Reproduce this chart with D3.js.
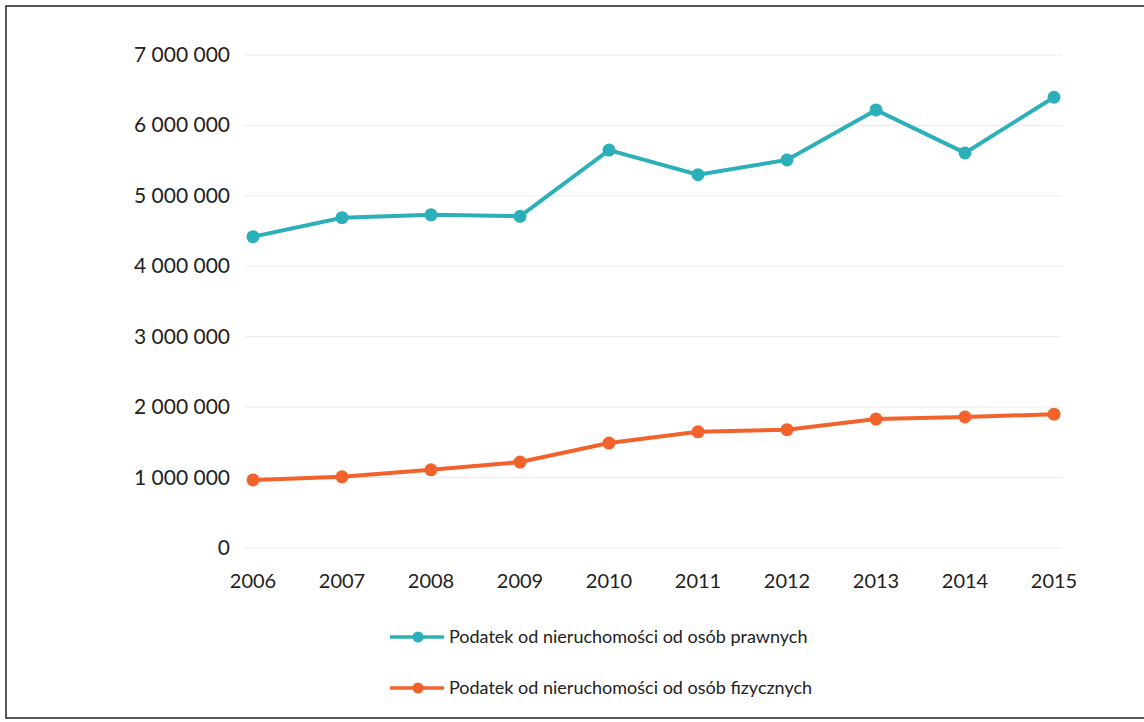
<!DOCTYPE html>
<html>
<head>
<meta charset="utf-8">
<script src="https://cdn.jsdelivr.net/npm/d3@7"></script>
<style>
  body { margin: 0; background: #fff; }
  text { font-family: Lato, "Open Sans", sans-serif; fill: #222; }
</style>
</head>
<body>
<div id="chart"></div>
<script>
// data
var years = [2006, 2007, 2008, 2009, 2010, 2011, 2012, 2013, 2014, 2015];
var prawne = [4420000, 4690000, 4730000, 4710000, 5650000, 5300000, 5510000, 6220000, 5610000, 6400000];
var fizyczne = [966000, 1010000, 1110000, 1220000, 1490000, 1650000, 1680000, 1830000, 1860000, 1900000];
var yTicks = [0, 1000000, 2000000, 3000000, 4000000, 5000000, 6000000, 7000000];
var seriesNames = ['Podatek od nieruchomości od osób prawnych', 'Podatek od nieruchomości od osób fizycznych'];
var colors = ['#2bb0b9', '#f4622b'];

var width = 1144, height = 722;
var svg = d3.select('#chart').append('svg')
    .attr('width', width)
    .attr('height', height);

// frame
svg.append('rect')
    .attr('x', 6).attr('y', 6)
    .attr('width', width + 10).attr('height', 712)
    .style('fill', 'none')
    .style('stroke', '#222')
    .attr('stroke-width', 1.5);

var x = d3.scalePoint().domain(years).range([253, 1054]);
var y = d3.scaleLinear().domain([0, 7000000]).range([548, 55]);

function fmt(v) {
    return d3.format(',')(v).replace(/,/g, ' ');
}

// gridlines
svg.selectAll('.grid')
    .data(yTicks)
    .enter().append('line')
    .attr('class', 'grid')
    .attr('x1', 245).attr('x2', 1062)
    .attr('y1', function (d) { return y(d); })
    .attr('y2', function (d) { return y(d); })
    .style('stroke', '#ebebeb')
    .attr('stroke-width', 1);

// y labels
svg.selectAll('.ylab')
    .data(yTicks)
    .enter().append('text')
    .attr('class', 'ylab')
    .attr('x', 230)
    .attr('y', function (d) { return y(d) + 7; })
    .attr('text-anchor', 'end')
    .style('font-size', '21px')
    .text(function (d) { return fmt(d); });

// x labels
svg.selectAll('.xlab')
    .data(years)
    .enter().append('text')
    .attr('class', 'xlab')
    .attr('x', function (d) { return x(d); })
    .attr('y', 588)
    .attr('text-anchor', 'middle')
    .style('font-size', '20px')
    .text(function (d) { return d; });

var line = d3.line()
    .x(function (d, i) { return x(years[i]); })
    .y(function (d) { return y(d); });

[prawne, fizyczne].forEach(function (vals, k) {
    svg.append('path')
        .datum(vals)
        .attr('d', line)
        .style('fill', 'none')
        .style('stroke', colors[k])
        .attr('stroke-width', 4);
    svg.selectAll('.pt' + k)
        .data(vals)
        .enter().append('circle')
        .attr('class', 'pt' + k)
        .attr('cx', function (d, i) { return x(years[i]); })
        .attr('cy', function (d) { return y(d); })
        .attr('r', 6.5)
        .style('fill', colors[k]);
});

// legend
var legY = [637, 688];
seriesNames.forEach(function (name, k) {
    var g = svg.append('g').attr('transform', 'translate(0,' + legY[k] + ')');
    g.append('line')
        .attr('x1', 390).attr('x2', 444)
        .attr('y1', 0).attr('y2', 0)
        .style('stroke', colors[k])
        .attr('stroke-width', 3.5);
    g.append('circle')
        .attr('cx', 418).attr('cy', 0).attr('r', 5.5)
        .style('fill', colors[k]);
    g.append('text')
        .attr('x', 449).attr('y', 6)
        .style('font-size', '18px')
        .text(name);
});
</script>
</body>
</html>
